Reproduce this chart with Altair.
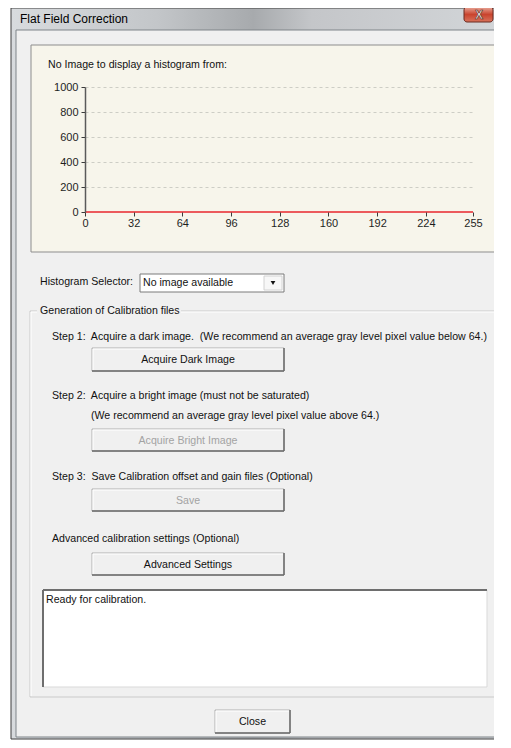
import altair as alt
import pandas as pd

# ---------------- chart data (empty histogram: no image loaded) ----------------
gray_levels = [0, 32, 64, 96, 128, 160, 192, 224, 255]
pixel_counts = [0, 0, 0, 0, 0, 0, 0, 0, 0]
x_tick_values = [0, 32, 64, 96, 128, 160, 192, 224, 255]
y_tick_values = [0, 200, 400, 600, 800, 1000]

# ---------------- dialog texts ----------------
window_title = "Flat Field Correction"
chart_caption = "No Image to display a histogram from:"
selector_label = "Histogram Selector:"
selector_value = "No image available"
group_title = "Generation of Calibration files"
step_texts = [
    "Step 1:\u00a0 Acquire a dark image.\u00a0 (We recommend an average gray level pixel value below 64.)",
    "Step 2:\u00a0 Acquire a bright image (must not be saturated)",
    "(We recommend an average gray level pixel value above 64.)",
    "Step 3:\u00a0 Save Calibration offset and gain files (Optional)",
    "Advanced calibration settings (Optional)",
]
button_labels = ["Acquire Dark Image", "Acquire Bright Image", "Save", "Advanced Settings", "Close"]
button_enabled = [True, False, False, True, True]
status_text = "Ready for calibration."

# ---------------- layout (page pixels) ----------------
FONT = "Liberation Sans"
PLOT_L, PLOT_T = 85, 87
PLOT_W, PLOT_H = 388, 125
SVG_W, SVG_H = 486, 732
RIGHT_EDGE = 8 + SVG_W
BOTTOM_EDGE = 8 + SVG_H
PAD = {"left": PLOT_L - 8, "top": PLOT_T - 8,
       "right": SVG_W - (PLOT_L - 8) - PLOT_W, "bottom": SVG_H - (PLOT_T - 8) - PLOT_H}


def px(x):
    return x - PLOT_L


def py(y):
    return y - PLOT_T


button_boxes = [(92, 348, 284, 371), (92, 429, 284, 451), (92, 489, 284, 511),
                (92, 553, 284, 575), (215, 710, 290, 733)]
step_pos = [(52, 337), (52, 396), (91, 416), (52, 477), (52, 539)]

rect_rows = [
    (16, 30, RIGHT_EDGE + 2, BOTTOM_EDGE - 3, "#F0F0F0", "#7F8489", 1),   # client area
    (31, 45, 502, 252, "#F7F5EB", "#8D8D8D", 1),        # histogram panel
    (140, 274, 284, 292, "#FFFFFF", "#7A7A7A", 1),      # combo box
    (264, 276, 282, 290, "#F7F7F7", "#D2D2D2", 1),      # combo arrow button
    (43, 590, 487, 687, "#FFFFFF", "#D9D9D9", 1),       # status box
]
for (x1, y1, x2, y2) in button_boxes:
    rect_rows.append((x1, y1, x2, y2, "#F0F0F0", "#B0B0B0", 1))
rects = pd.DataFrame(rect_rows, columns=["x", "y", "x2", "y2", "fill", "stroke", "sw"])

rule_rows = []
# etched group box
for (a, b, c, d) in [(30, 311, 37, 311), (181, 311, 502, 311), (30, 311, 30, 697),
                     (30, 697, 502, 697), (502, 311, 502, 697)]:
    rule_rows.append((a, b, c, d, "#CACACA", 1))
for (a, b, c, d) in [(31, 312, 37, 312), (181, 312, 501, 312), (31, 312, 31, 696)]:
    rule_rows.append((a, b, c, d, "#FFFFFF", 1))
# button bevels
for (x1, y1, x2, y2) in button_boxes:
    rule_rows.append((x1 + 1, y1 + 1, x2 - 1, y1 + 1, "#FFFFFF", 1))
    rule_rows.append((x1 + 1, y1 + 1, x1 + 1, y2 - 1, "#FFFFFF", 1))
    rule_rows.append((x1, y2, x2, y2, "#6A6A6A", 1.5))
    rule_rows.append((x2, y1, x2, y2, "#6A6A6A", 1.5))
# status box sunken edge
rule_rows.append((43, 590, 487, 590, "#6E6E6E", 2))
rule_rows.append((43, 590, 43, 687, "#6E6E6E", 2))
rules = pd.DataFrame(rule_rows, columns=["x", "y", "x2", "y2", "color", "sw"])

left_rows = [
    (48, 65, chart_caption, "#111111", 10.6),
    (40, 282, selector_label, "#111111", 10.6),
    (143, 283, selector_value, "#111111", 10.6),
    (40, 311, group_title, "#111111", 10.6),
    (46, 600, status_text, "#111111", 10.6),
    (20, 19, window_title, "#000000", 12),
]
for (pos, t) in zip(step_pos, step_texts):
    left_rows.append((pos[0], pos[1], t, "#111111", 10.6))
left_texts = pd.DataFrame(left_rows, columns=["x", "y", "text", "color", "size"])

center_rows = []
for (box, lab, en) in zip(button_boxes, button_labels, button_enabled):
    center_rows.append(((box[0] + box[2]) / 2, (box[1] + box[3]) / 2 + 0.5, lab,
                        "#111111" if en else "#A3A3A3", 10.6))
center_texts = pd.DataFrame(center_rows, columns=["x", "y", "text", "color", "size"])

for df in (rects, rules, left_texts, center_texts):
    df["x"] = df["x"].map(px)
    df["y"] = df["y"].map(py)
    if "x2" in df:
        df["x2"] = df["x2"].map(px)
        df["y2"] = df["y2"].map(py)


def xq(f):
    return alt.X(f + ":Q", scale=None, axis=None)


def yq(f):
    return alt.Y(f + ":Q", scale=None, axis=None)


frame_df = pd.DataFrame([{"x": px(11), "y": py(8), "x2": px(RIGHT_EDGE + 2), "y2": py(BOTTOM_EDGE - 1)}])
frame = alt.Chart(frame_df).mark_rect(
    stroke="#3E3E3E", strokeWidth=1,
    color={"gradient": "linear", "x1": 0, "x2": 1, "y1": 0, "y2": 0,
           "stops": [{"offset": 0, "color": "#D8DBDE"}, {"offset": 0.3, "color": "#C3C6C9"},
                     {"offset": 0.5, "color": "#A7AAAD"}, {"offset": 0.62, "color": "#C4C6C9"},
                     {"offset": 1, "color": "#D2D5D8"}]},
).encode(x=xq("x"), x2="x2", y=yq("y"), y2="y2")

close_df = pd.DataFrame([{"x": px(464), "y": py(7), "x2": px(RIGHT_EDGE - 1), "y2": py(22)}])
close_btn = alt.Chart(close_df).mark_rect(
    stroke="#6B2A20", strokeWidth=1, cornerRadius=3,
    color={"gradient": "linear", "x1": 0, "x2": 0, "y1": 0, "y2": 1,
           "stops": [{"offset": 0, "color": "#E9A99A"}, {"offset": 0.5, "color": "#C9442E"},
                     {"offset": 1, "color": "#D9735C"}]},
).encode(x=xq("x"), x2="x2", y=yq("y"), y2="y2")
close_x = alt.Chart(pd.DataFrame([{"x": px(479), "y": py(14.5), "t": "X"}])).mark_text(
    font=FONT, fontSize=12, fontWeight="bold", color="#FFFFFF", stroke="#5A2A22",
    strokeWidth=0.6, align="center", baseline="middle"
).encode(x=xq("x"), y=yq("y"), text="t:N")

rect_layer = alt.Chart(rects).mark_rect().encode(
    x=xq("x"), x2="x2", y=yq("y"), y2="y2",
    fill=alt.Fill("fill:N", scale=None), stroke=alt.Stroke("stroke:N", scale=None),
    strokeWidth=alt.StrokeWidth("sw:Q", scale=None))

rule_layer = alt.Chart(rules).mark_rule().encode(
    x=xq("x"), x2="x2", y=yq("y"), y2="y2",
    color=alt.Color("color:N", scale=None), strokeWidth=alt.StrokeWidth("sw:Q", scale=None))

arrow = alt.Chart(pd.DataFrame([{"x": px(273), "y": py(283)}])).mark_point(
    shape="triangle-down", filled=True, color="#111111", size=22, opacity=1
).encode(x=xq("x"), y=yq("y"))

left_layer = alt.Chart(left_texts).mark_text(font=FONT, align="left", baseline="middle").encode(
    x=xq("x"), y=yq("y"), text="text:N",
    color=alt.Color("color:N", scale=None), size=alt.Size("size:Q", scale=None))

center_layer = alt.Chart(center_texts).mark_text(font=FONT, align="center", baseline="middle").encode(
    x=xq("x"), y=yq("y"), text="text:N",
    color=alt.Color("color:N", scale=None), size=alt.Size("size:Q", scale=None))

hist_df = pd.DataFrame({"gray": gray_levels, "count": pixel_counts})
hist = alt.Chart(hist_df).mark_line(color="#E8262E", strokeWidth=1.5).encode(
    x=alt.X("gray:Q", scale=alt.Scale(domain=[0, 255], nice=False, zero=False),
            axis=alt.Axis(values=x_tick_values, title=None, grid=False, domain=False,
                          tickSize=4, tickColor="#3A3A3A", tickWidth=1, labelPadding=1,
                          labelFont=FONT, labelFontSize=11, labelColor="#1E1E1E",
                          labelFlush=False, labelOverlap=False, zindex=1, format="d")),
    y=alt.Y("count:Q", scale=alt.Scale(domain=[0, 1000], nice=False),
            axis=alt.Axis(values=y_tick_values, title=None, grid=True, gridDash=[3, 3],
                          gridColor="#CDCDC5", gridWidth=1,
                          gridOpacity={"condition": {"test": "datum.value === 0", "value": 0},
                                       "value": 1},
                          domain=True, domainColor="#5A5A5A",
                          domainWidth=1.5, tickSize=4, tickColor="#3A3A3A", labelPadding=3,
                          labelFont=FONT, labelFontSize=11, labelColor="#1E1E1E",
                          labelFlush=False, labelOverlap=False, zindex=1, format="d")),
)

chart = alt.layer(
    frame, close_btn, close_x, rect_layer, rule_layer, hist, arrow, left_layer, center_layer
).resolve_scale(x="independent", y="independent").properties(
    width=PLOT_W, height=PLOT_H, padding=PAD,
    autosize=alt.AutoSizeParams(type="none"), background="#FFFFFF",
).configure_view(stroke=None)

chart.save("out.html", embed_options={"renderer": "svg", "actions": False})
